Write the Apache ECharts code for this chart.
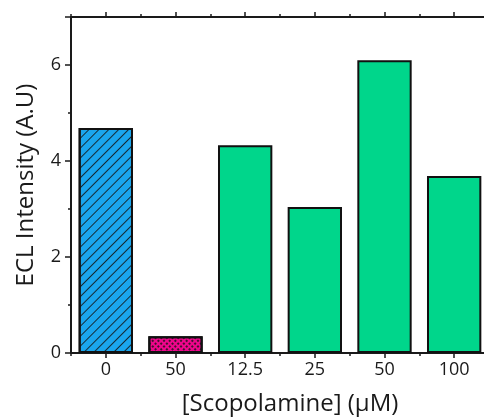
<!DOCTYPE html>
<html>
<head>
<meta charset="utf-8">
<script src="https://cdn.jsdelivr.net/npm/echarts@6/dist/echarts.min.js"></script>
<style>
  html, body { margin: 0; padding: 0; background: #fff; }
  #chart { width: 484px; height: 418px; }
</style>
</head>
<body>
<div id="chart"></div>
<script>
// concentrations of scopolamine (first bar = blank)
const categories = ['0', '50', '12.5', '25', '50', '100'];
const intensity = [4.69, 0.35, 4.33, 3.04, 6.1, 3.69];
const yTicks = [0, 2, 4, 6];

const FONT = 'Open Sans';
const INK = '#1a1a1a';

// fill + hatch decal for each bar
function styleFor(i) {
  if (i === 0) {
    return {
      color: '#1aa6ee',
      decal: { symbol: 'rect', symbolSize: 1, color: 'rgba(20,20,20,0.85)',
        dashArrayX: [1, 0], dashArrayY: [1, 6], rotation: -Math.PI / 4 }
    };
  }
  if (i === 1) {
    return {
      color: '#f0058c',
      decal: { symbol: 'rect', symbolSize: 1, color: 'rgba(20,20,20,0.8)',
        dashArrayX: [2, 2], dashArrayY: [2, 2], rotation: Math.PI / 4 }
    };
  }
  return { color: '#00d68b' };
}

const chart = echarts.init(document.getElementById('chart'), null, { renderer: 'canvas' });

// fresh objects each time so no axis shares an option object
const axisLine = () => ({ show: true, lineStyle: { color: INK, width: 2 } });
const tickStyle = () => ({ color: INK, width: 1.5 });

// extra axes that only carry ticks
function tickAxis(position, length, centred) {
  return {
    type: 'category',
    position: position,
    data: categories,
    axisLine: { show: false },
    axisTick: { show: true, alignWithLabel: centred, length: length, lineStyle: tickStyle() },
    axisLabel: { show: false },
    splitLine: { show: false }
  };
}

const option = {
  animation: false,
  textStyle: { fontFamily: FONT },
  grid: { left: 71, top: 17, width: 418, height: 336, outerBoundsMode: 'none' },
  xAxis: [
    {
      type: 'category',
      position: 'bottom',
      data: categories,
      axisLine: axisLine(),
      axisTick: { show: true, alignWithLabel: true, length: 5, lineStyle: tickStyle() },
      axisLabel: { fontSize: 18, color: INK, margin: 8 },
      splitLine: { show: false },
      name: '[Scopolamine] (\u03bcM)',
      nameLocation: 'middle',
      nameGap: 39,
      nameTextStyle: { fontSize: 24, color: INK, padding: [0, 0, 0, 20] }
    },
    tickAxis('bottom', 3, false),
    Object.assign(tickAxis('top', 5, true), { axisLine: axisLine() }),
    tickAxis('top', 3, false)
  ],
  yAxis: [
    {
      type: 'value',
      position: 'left',
      min: 0,
      max: 7,
      interval: 2,
      axisLine: axisLine(),
      axisTick: { show: true, length: 6, lineStyle: tickStyle() },
      splitLine: { show: false },
      axisLabel: {
        fontSize: 18, color: INK, margin: 10,
        formatter: (v) => (yTicks.indexOf(v) >= 0 ? String(v) : '')
      },
      name: 'ECL Intensity (A.U)',
      nameLocation: 'middle',
      nameGap: 33,
      nameTextStyle: { fontSize: 24, color: INK }
    },
    {
      type: 'value',
      position: 'left',
      min: 0,
      max: 7,
      interval: 1,
      axisLine: { show: false },
      axisTick: { show: true, length: 3, lineStyle: tickStyle() },
      splitLine: { show: false },
      axisLabel: { show: false }
    }
  ],
  series: [
    {
      type: 'bar',
      barWidth: '78%',
      data: intensity.map((v, i) => ({
        value: v,
        itemStyle: Object.assign({ borderColor: '#111', borderWidth: 2 }, styleFor(i))
      }))
    }
  ]
};

chart.setOption(option);
</script>
</body>
</html>
